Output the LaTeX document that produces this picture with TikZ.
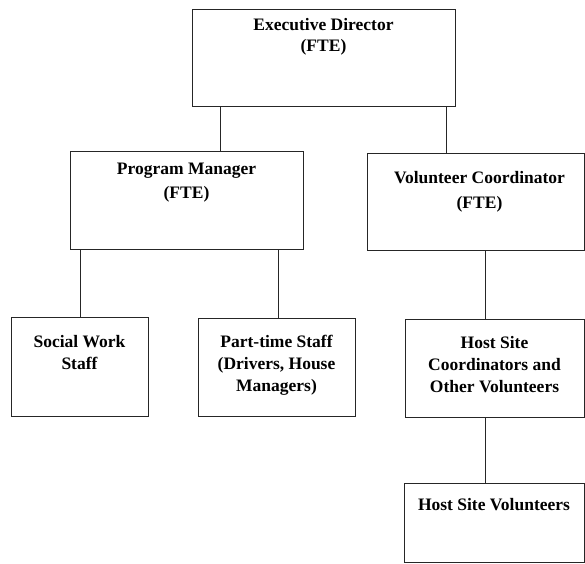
\documentclass[tikz,border=0pt]{standalone}
\usepackage{fontspec}
\setmainfont{Liberation Serif}
\tikzset{
  orgbox/.style={draw=black!85, line width=0.8pt, rectangle, inner sep=0pt},
  orgtxt/.style={anchor=north, inner sep=0pt, align=center, text=black,
    font=\fontsize{17.5}{22}\selectfont\bfseries},
  link/.style={draw=black!85, line width=0.8pt}
}
\begin{document}
\begin{tikzpicture}[x=1pt, y=-1pt]
\useasboundingbox (0,0) rectangle (585,563);
% boxes
\node[orgbox, minimum width=263pt, minimum height=97pt] (exec) at (323.5,57.5) {};
\node[orgbox, minimum width=233pt, minimum height=98pt] (pm) at (186.5,200) {};
\node[orgbox, minimum width=217pt, minimum height=97pt] (vc) at (475.5,201.5) {};
\node[orgbox, minimum width=137pt, minimum height=99pt] (sw) at (79.5,366.5) {};
\node[orgbox, minimum width=157pt, minimum height=98pt] (pt) at (276.5,367) {};
\node[orgbox, minimum width=179pt, minimum height=98pt] (hsc) at (494.5,368) {};
\node[orgbox, minimum width=180pt, minimum height=79pt] (hsv) at (494,522.5) {};
% texts
\node[orgtxt, font=\fontsize{17.5}{21}\selectfont\bfseries] (texec) at ([yshift=-10pt]exec.north) {Executive Director\\(FTE)};
\node[orgtxt, font=\fontsize{17.5}{24}\selectfont\bfseries] (tpm) at ([yshift=-12pt]pm.north) {Program Manager\\(FTE)};
\node[orgtxt, font=\fontsize{17.5}{25}\selectfont\bfseries] (tvc) at ([xshift=4pt,yshift=-19pt]vc.north) {Volunteer Coordinator\\(FTE)};
\node[orgtxt] (tsw) at ([yshift=-19pt]sw.north) {Social Work\\Staff};
\node[orgtxt] (tpt) at ([yshift=-17pt]pt.north) {Part-time Staff\\(Drivers, House\\Managers)};
\node[orgtxt] (thsc) at ([yshift=-18pt]hsc.north) {Host Site\\Coordinators and\\Other Volunteers};
\node[orgtxt] (thsv) at ([yshift=-16pt]hsv.north) {Host Site Volunteers};
% connectors
\draw[link] (exec.south -| 220,0) -- (pm.north -| 220,0);
\draw[link] (exec.south -| 446,0) -- (vc.north -| 446,0);
\draw[link] (pm.south -| 80,0) -- (sw.north -| 80,0);
\draw[link] (pm.south -| 278,0) -- (pt.north -| 278,0);
\draw[link] (vc.south -| 485,0) -- (hsc.north -| 485,0);
\draw[link] (hsc.south -| 485,0) -- (hsv.north -| 485,0);
\end{tikzpicture}
\end{document}
